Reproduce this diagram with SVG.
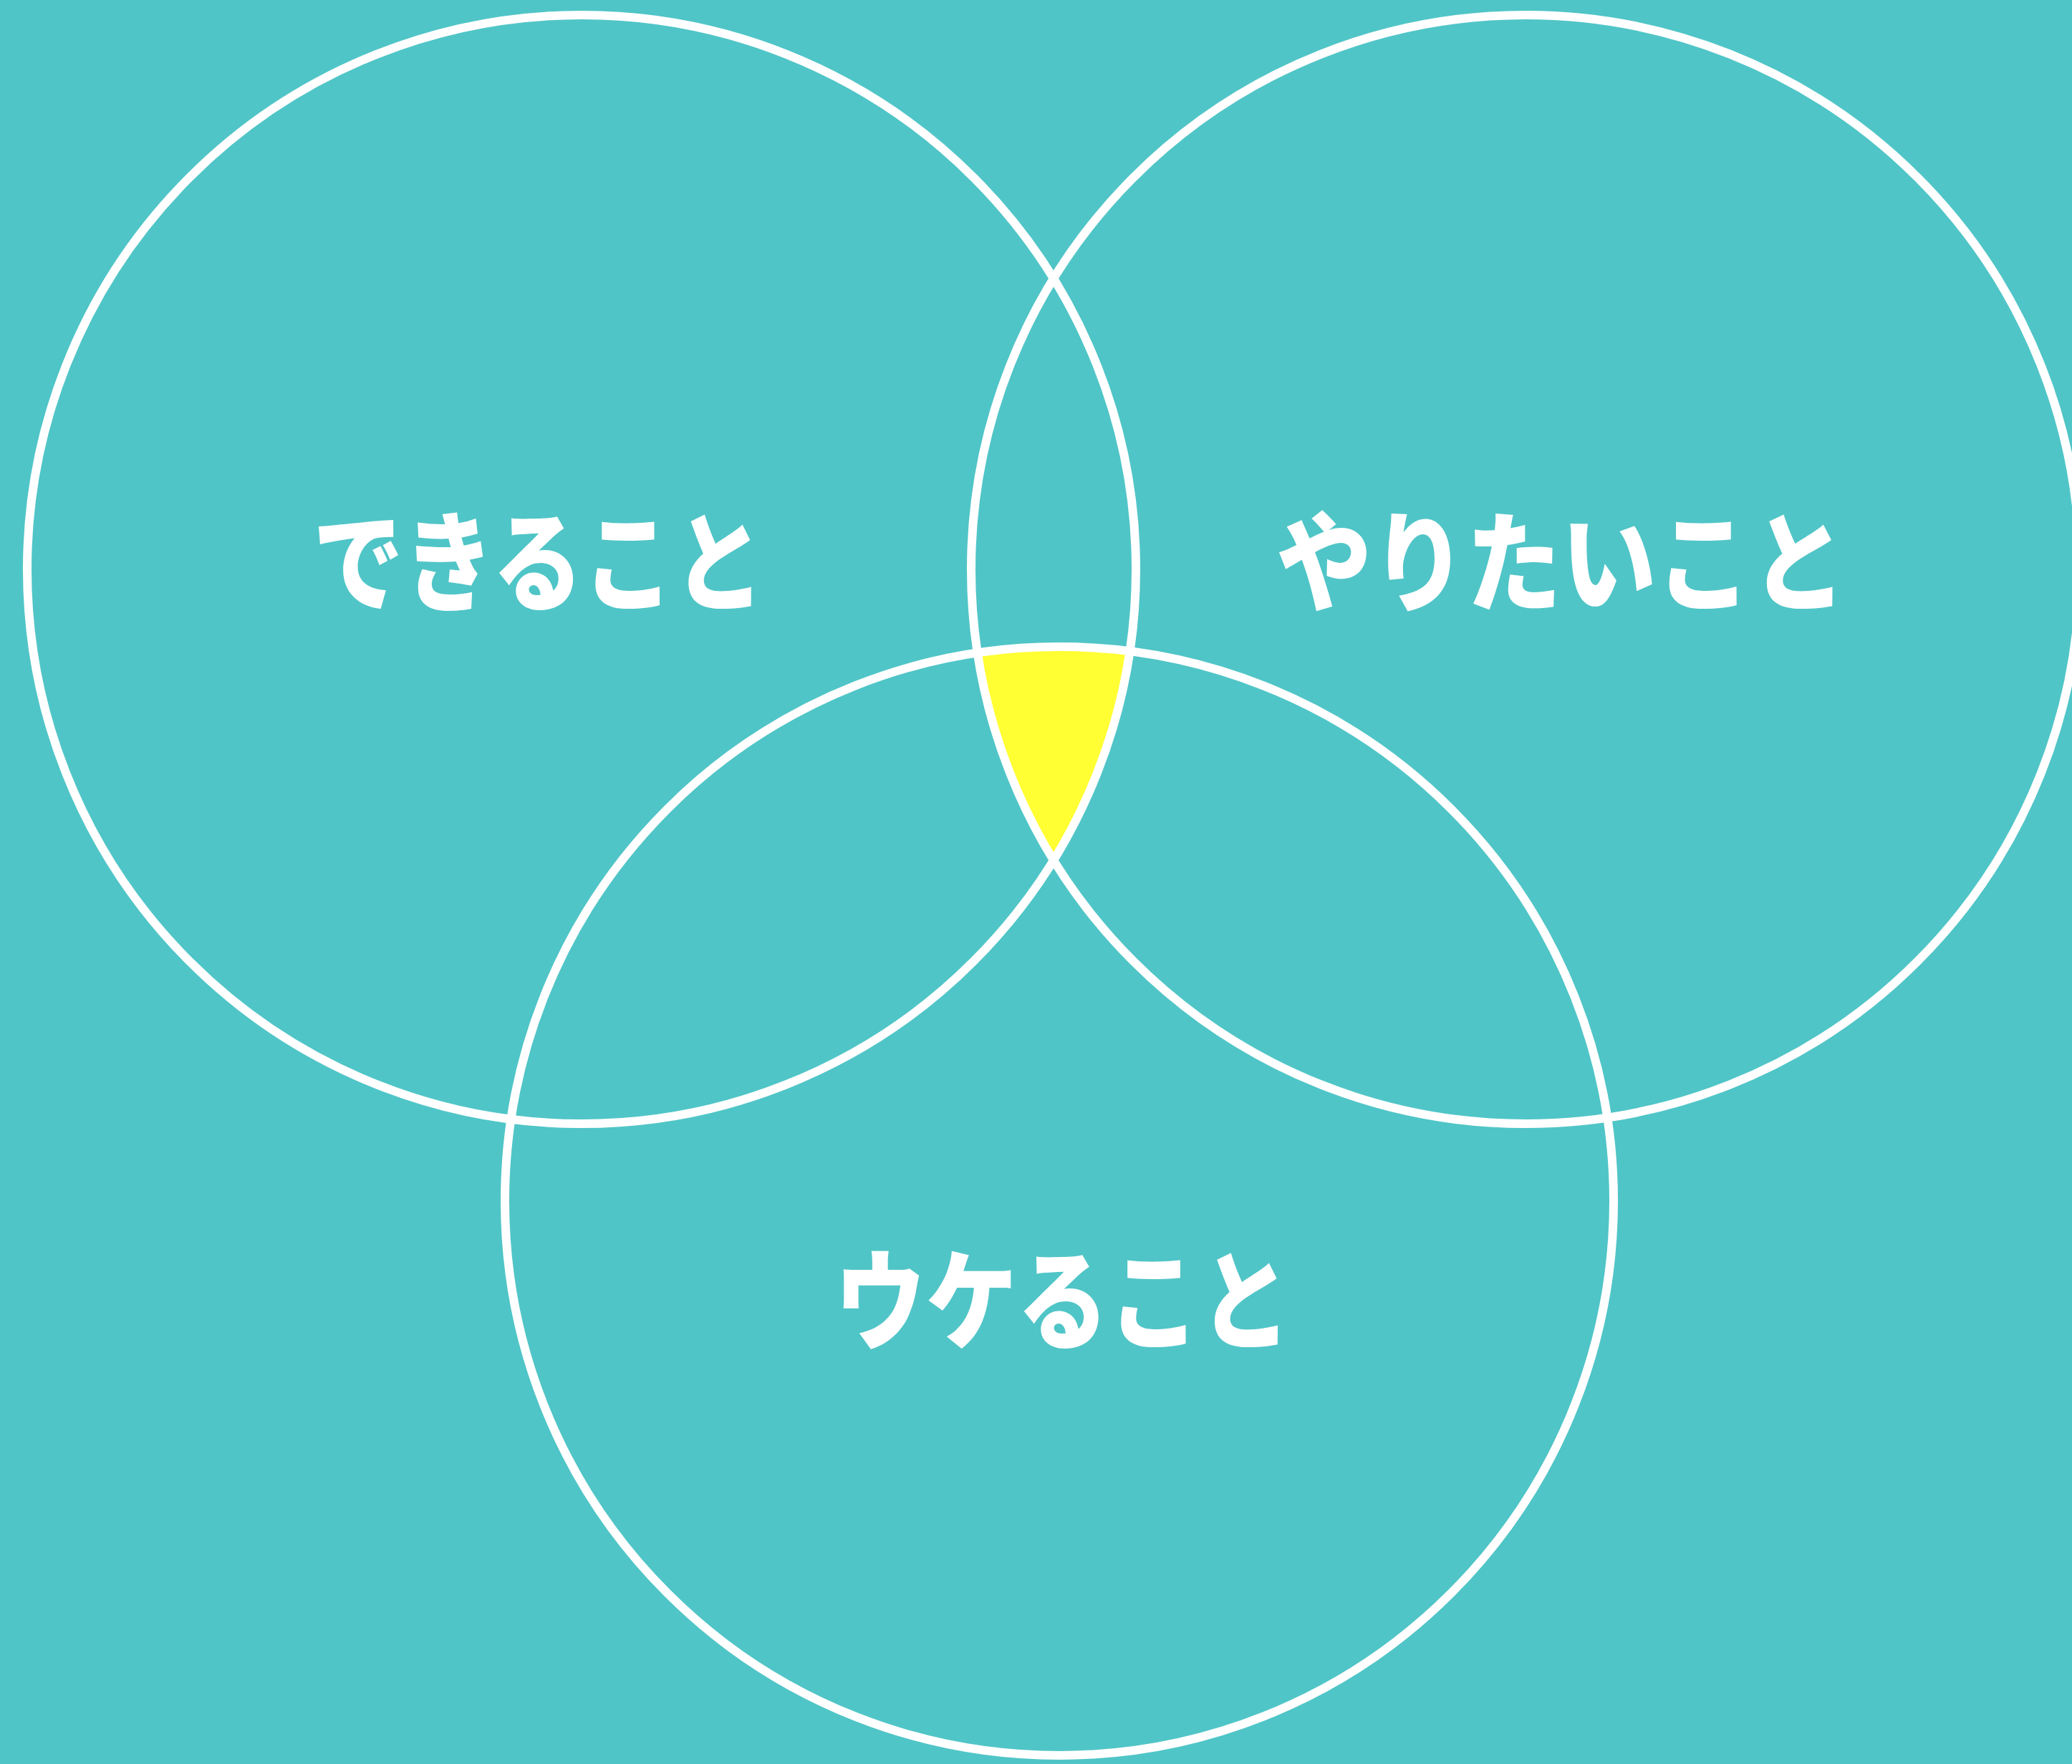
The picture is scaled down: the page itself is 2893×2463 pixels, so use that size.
<svg xmlns="http://www.w3.org/2000/svg" width="2893" height="2463" viewBox="0 0 2893 2463">
<style>
.ring{fill:none;stroke:#ffffff;stroke-width:12}
.lbl{fill:#ffffff;font-family:"Noto Sans CJK JP","Noto Sans CJK SC",sans-serif;font-weight:900;font-size:152px;text-anchor:middle;dominant-baseline:central}
</style>
<rect x="0" y="0" width="2893" height="2463" fill="#50C5C7"/>
<g id="overlap">
<path d="M1365,911 A774,774 0 0 1 1577,909 A774,774 0 0 1 1471,1201 A774,774 0 0 1 1365,911 Z" fill="#FFFF33" transform="translate(0,-5)"/>
</g>
<g id="node-dekiru">
<circle class="ring" cx="812" cy="795" r="774"/>
<text class="lbl" x="752" y="776" textLength="630" lengthAdjust="spacingAndGlyphs">できること</text>
</g>
<g id="node-yaritai">
<circle class="ring" cx="2130" cy="795" r="774"/>
<text class="lbl" x="2180" y="776" textLength="795" lengthAdjust="spacingAndGlyphs">やりたいこと</text>
</g>
<g id="node-ukeru">
<circle class="ring" cx="1479" cy="1677" r="774"/>
<text class="lbl" x="1484" y="1807" textLength="637" lengthAdjust="spacingAndGlyphs">ウケること</text>
</g>
</svg>
